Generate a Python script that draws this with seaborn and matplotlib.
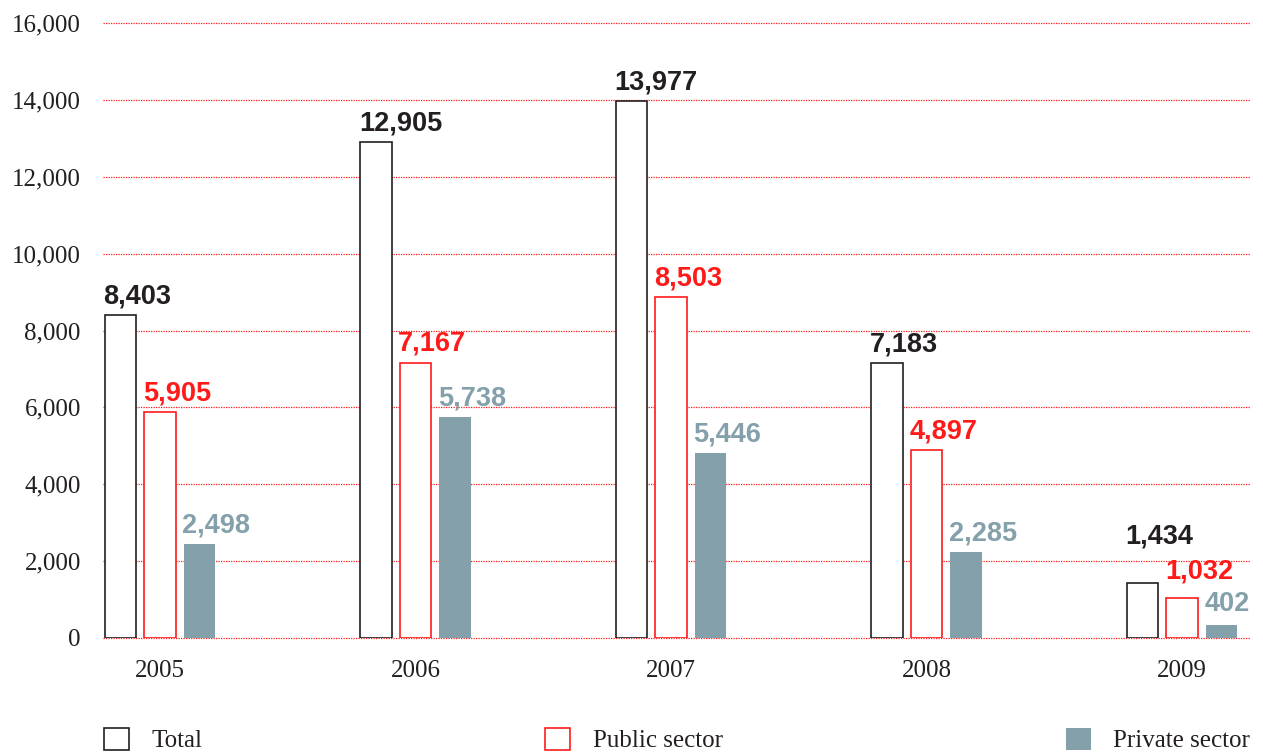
import matplotlib
matplotlib.use("Agg")
import matplotlib.pyplot as plt
import matplotlib.patches as mpatches
import seaborn as sns
import pandas as pd

# ---- data ----
years = ["2005", "2006", "2007", "2008", "2009"]
series = ["Total", "Public sector", "Private sector"]
# bar heights as drawn in the picture
total_bars = [8400, 12905, 13977, 7150, 1434]
public_bars = [5870, 7167, 8880, 4897, 1040]
private_bars = [2440, 5738, 4820, 2230, 350]
# printed labels
total_labels = [8403, 12905, 13977, 7183, 1434]
public_labels = [5905, 7167, 8503, 4897, 1032]
private_labels = [2498, 5738, 5446, 2285, 402]
yticks = [0, 2000, 4000, 6000, 8000, 10000, 12000, 14000, 16000]

RED = "#ff1a1a"
GREY = "#84a0aa"
BLACK = "#231f20"

rows = []
for s, vals in zip(series, [total_bars, public_bars, private_bars]):
    for y, v in zip(years, vals):
        rows.append({"year": y, "series": s, "value": v})
df = pd.DataFrame(rows)

sns.set_theme(style="white")
fig = plt.figure(figsize=(12.63, 7.55), dpi=100)
ax = fig.add_axes([103 / 1263, 117 / 755, (1250 - 103) / 1263, (638 - 23) / 755])

sns.barplot(data=df, x="year", y="value", hue="series", order=years,
            hue_order=series,
            palette={"Total": "white", "Public sector": "white", "Private sector": GREY},
            width=0.464, gap=0.2, ax=ax, legend=False, saturation=1)

edge = [BLACK, RED, GREY]
lws = [1.2, 1.2, 0]
for cont, ec, lw in zip(ax.containers, edge, lws):
    for p in cont:
        p.set_edgecolor(ec)
        p.set_linewidth(lw)
        p.set_zorder(3)

# value labels
label_sets = [total_labels, public_labels, private_labels]
label_colors = [BLACK, RED, GREY]
extra = {(0, 4): 20, (1, 4): 6, (2, 4): 1.5}
for si, (cont, labs, col) in enumerate(zip(ax.containers, label_sets, label_colors)):
    for i, (p, lab) in enumerate(zip(cont, labs)):
        x0 = p.get_x()
        top = p.get_height()
        ax.annotate(f"{lab:,}", xy=(x0, top), xytext=(-1, 4 + extra.get((si, i), 0)),
                    textcoords="offset points", ha="left", va="bottom",
                    fontsize=19.5, fontweight="bold", color=col,
                    family="Liberation Sans", zorder=5)

ax.set_ylim(0, 16000)
ax.set_xlim(-0.223, 4.266)
ax.set_yticks(yticks)
ax.set_yticklabels([f"{t:,}" for t in yticks])
ax.yaxis.grid(True, color=RED, linestyle=(0, (1, 1)), linewidth=0.9)
for gl in ax.get_ygridlines():
    gl.set_clip_on(False)
ax.set_axisbelow(True)
for s in ax.spines.values():
    s.set_visible(False)
ax.tick_params(axis="both", length=0, labelsize=18, colors=BLACK)
ax.tick_params(axis="y", pad=16)
ax.tick_params(axis="x", pad=16)
for lab in ax.get_xticklabels() + ax.get_yticklabels():
    lab.set_family("Liberation Serif")
ax.set_xlabel("")
ax.set_ylabel("")

handles = [
    mpatches.Patch(facecolor="white", edgecolor=BLACK, linewidth=1.2, label="Total"),
    mpatches.Patch(facecolor="white", edgecolor=RED, linewidth=1.2, label="Public sector"),
    mpatches.Patch(facecolor=GREY, edgecolor=GREY, linewidth=0, label="Private sector"),
]
fig.legend(handles=handles, loc="center left", ncol=3, mode="expand",
           bbox_to_anchor=(104 / 1263, 15 / 755, (1250 - 104) / 1263, 0),
           frameon=False, borderaxespad=0, borderpad=0,
           handlelength=1.0, handleheight=1.0, handletextpad=0.9,
           prop={"family": "Liberation Serif", "size": 18}, labelcolor=BLACK)

fig.savefig("out.png", dpi=100)
